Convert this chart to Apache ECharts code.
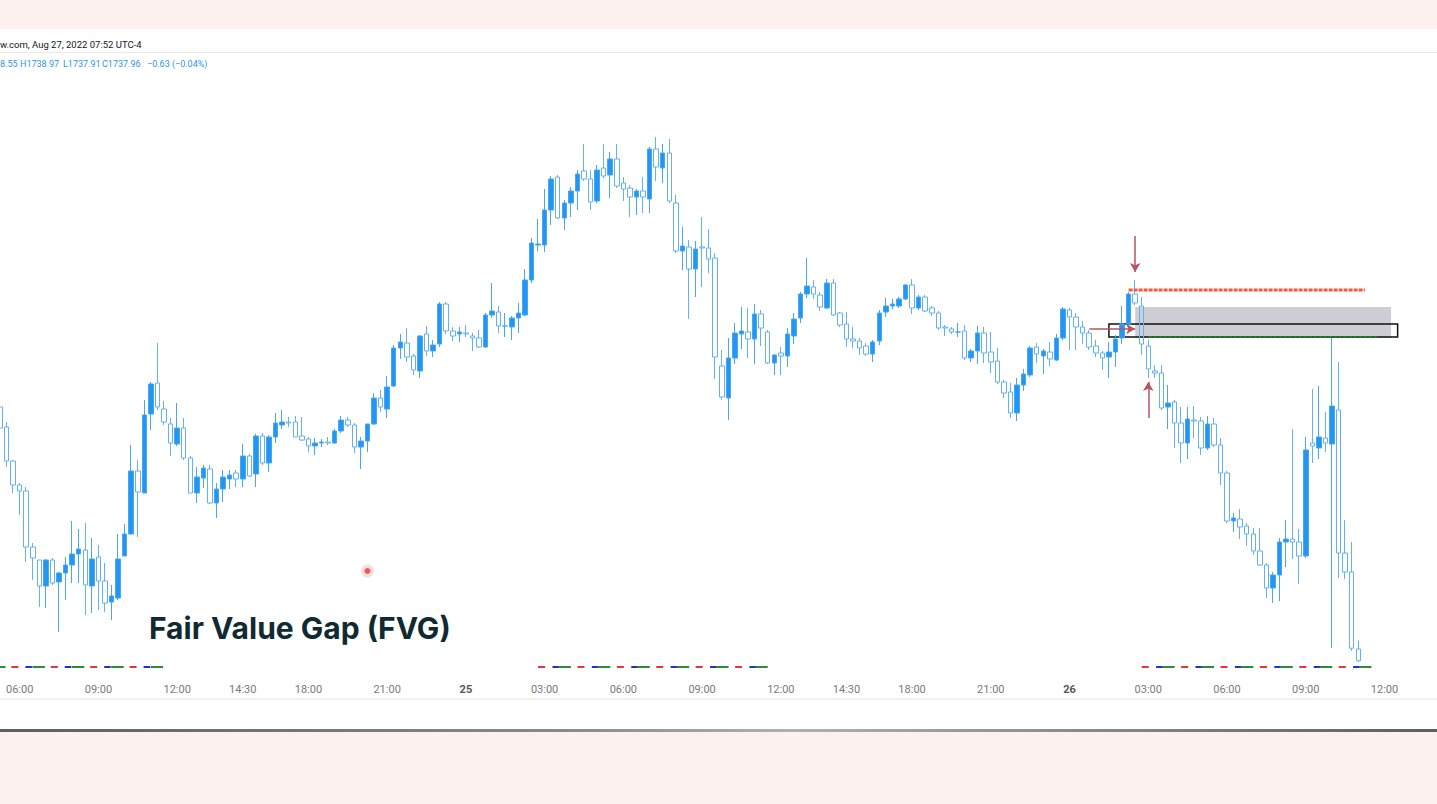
<!DOCTYPE html>
<html>
<head>
<meta charset="utf-8">
<script src="https://cdn.jsdelivr.net/npm/echarts@6/dist/echarts.min.js"></script>
<style>
  html, body { margin: 0; padding: 0; background: #fdf1f0; width: 1437px; height: 804px; overflow: hidden; }
  #panel { position: absolute; left: 0; top: 29px; width: 1437px; height: 700px; background: #ffffff; }
  #sep1 { position: absolute; left: 0; top: 52px; width: 1437px; height: 1px; background: #e9eaee; }
  #sep2 { position: absolute; left: 0; top: 698px; width: 1437px; height: 2px; background: #f1f1f3; }
  #shadow { position: absolute; left: 0; top: 729px; width: 1437px; height: 3px;
            background: linear-gradient(to right, #5e5e5e, #8a8a8a 40%, #b0b0b0 55%, #8a8a8a 75%, #5e5e5e); }
  #chart { position: absolute; left: 0; top: 0; width: 1437px; height: 804px; }
</style>
</head>
<body>
<div id="panel"></div>
<div id="sep1"></div>
<div id="sep2"></div>
<div id="shadow"></div>
<div id="chart"></div>
<script>
// ---------- DATA (15-minute candles, XAUUSD, Aug 24 05:15 -> Aug 26 11:00) ----------
const candleOpen = [
1750.65,1749.65,1747.95,1746.75,1746.45,1743.65,1743.00,1741.70,1743.00,1741.90,
1742.35,1742.75,1743.30,1743.50,1741.70,1743.15,1741.95,1740.90,1741.10,1743.20,
1744.30,1747.45,1746.35,1750.30,1751.85,1750.55,1749.80,1748.80,1749.60,1748.10,
1746.35,1747.10,1747.55,1745.85,1746.55,1747.05,1747.35,1747.05,1748.20,1747.30,
1749.20,1747.85,1749.15,1749.75,1749.90,1749.90,1749.20,1749.05,1748.70,1748.85,
1748.90,1748.85,1749.45,1750.00,1749.75,1748.65,1748.95,1749.80,1751.10,1750.55,
1751.70,1753.60,1753.85,1753.20,1752.45,1754.30,1753.45,1753.80,1755.80,1754.45,
1754.30,1754.35,1754.20,1754.10,1753.65,1755.25,1755.40,1754.70,1754.65,1755.10,
1755.25,1757.00,1758.75,1758.75,1760.50,1762.15,1760.10,1760.85,1761.45,1762.45,
1762.05,1760.95,1762.60,1762.25,1763.05,1761.85,1761.60,1761.15,1761.45,1761.05,
1763.55,1762.60,1763.35,1760.85,1758.45,1758.65,1757.55,1758.65,1758.60,1758.10,
1752.70,1751.10,1753.10,1754.30,1754.40,1754.05,1755.30,1754.40,1752.85,1753.35,
1753.20,1754.20,1755.10,1756.30,1756.65,1756.25,1755.60,1756.85,1755.35,1754.80,
1754.05,1753.95,1753.70,1753.30,1753.95,1755.40,1755.70,1755.70,1756.05,1756.75,
1755.60,1756.15,1755.60,1755.35,1754.65,1754.55,1754.40,1754.45,1753.10,1753.45,
1754.35,1753.40,1752.95,1751.90,1751.40,1750.35,1751.75,1752.25,1753.65,1753.20,
1753.40,1753.00,1754.10,1755.50,1755.15,1754.65,1754.35,1753.70,1753.35,1753.15,
1753.40,1754.10,1754.80,1756.30,1755.70,1753.70,1752.45,1752.35,1750.65,1750.90,
1749.85,1748.85,1750.00,1749.95,1748.60,1749.80,1748.75,1747.35,1744.95,1745.05,
1744.70,1744.30,1743.45,1742.75,1741.60,1742.25,1743.90,1744.05,1743.90,1743.20,
1748.85,1748.60,1749.10,1748.80,1750.50,1743.35,1742.40,1738.55
];
const candleClose = [
1749.60,1747.95,1746.75,1746.45,1743.65,1743.10,1741.70,1743.00,1741.85,1742.35,
1742.75,1743.30,1743.55,1741.75,1743.05,1741.95,1740.85,1741.20,1743.05,1744.30,
1747.45,1746.40,1750.25,1751.80,1750.65,1749.90,1748.85,1749.60,1748.10,1746.35,
1747.15,1747.60,1745.85,1746.55,1747.15,1747.25,1747.05,1748.20,1747.20,1749.20,
1747.85,1749.15,1749.85,1749.90,1749.85,1749.15,1749.00,1748.70,1748.85,1748.90,
1748.85,1749.45,1750.00,1749.75,1748.65,1748.95,1749.80,1751.10,1750.65,1751.65,
1753.60,1753.90,1753.15,1752.50,1754.20,1753.45,1753.75,1755.80,1754.45,1754.20,
1754.40,1754.30,1754.10,1753.65,1755.25,1755.45,1754.70,1754.70,1755.10,1755.35,
1757.00,1758.85,1758.80,1760.50,1762.05,1760.10,1760.85,1761.45,1762.30,1762.05,
1760.90,1762.50,1762.20,1763.05,1761.70,1761.55,1761.15,1761.45,1761.15,1763.55,
1762.65,1763.35,1760.95,1758.45,1758.70,1757.55,1758.55,1758.60,1758.05,1753.15,
1751.15,1753.10,1754.35,1754.45,1754.05,1755.30,1754.60,1752.85,1753.25,1753.20,
1754.30,1755.05,1756.30,1756.70,1756.30,1755.65,1756.85,1755.25,1754.75,1754.05,
1753.95,1753.60,1753.30,1753.90,1755.35,1755.70,1755.80,1756.05,1756.75,1755.60,
1756.15,1755.45,1755.35,1754.60,1754.60,1754.40,1754.40,1753.10,1753.45,1754.35,
1753.35,1752.90,1751.90,1751.35,1750.35,1751.75,1752.30,1753.60,1753.30,1753.45,
1753.05,1754.10,1755.55,1755.15,1754.65,1754.35,1753.65,1753.35,1753.10,1753.40,
1754.05,1754.80,1756.30,1755.85,1753.80,1752.55,1752.35,1750.60,1750.85,1749.85,
1748.85,1750.05,1749.95,1748.60,1749.80,1748.75,1747.35,1744.95,1745.10,1744.65,
1744.30,1743.45,1742.75,1741.60,1742.25,1743.90,1744.05,1743.90,1743.20,1748.50,
1748.70,1749.15,1748.85,1750.70,1743.35,1742.40,1738.59,1737.96
];
const candleLow = [
1749.50,1747.65,1746.35,1745.25,1742.90,1742.00,1740.65,1740.60,1741.75,1739.40,
1741.00,1741.85,1741.85,1740.25,1740.35,1740.50,1740.40,1740.00,1741.00,1743.20,
1744.25,1744.15,1746.35,1749.50,1750.50,1749.75,1748.20,1748.70,1748.00,1746.35,
1745.85,1746.60,1745.80,1745.10,1745.90,1746.55,1746.65,1746.65,1747.15,1746.65,
1747.75,1747.40,1748.85,1749.55,1749.65,1749.15,1748.95,1748.40,1748.25,1748.65,
1748.75,1748.80,1749.35,1749.65,1748.35,1747.55,1748.40,1749.75,1750.40,1750.10,
1751.65,1753.05,1752.90,1752.25,1752.10,1753.20,1753.15,1753.65,1754.30,1753.95,
1753.90,1754.15,1753.45,1753.60,1753.60,1755.10,1754.35,1754.15,1754.00,1754.35,
1755.20,1756.85,1758.45,1758.40,1759.75,1760.05,1759.50,1760.15,1760.50,1761.95,
1760.50,1760.85,1762.10,1761.10,1761.60,1760.95,1760.15,1760.25,1760.35,1760.35,
1761.95,1761.85,1760.85,1758.35,1757.50,1755.05,1756.15,1756.65,1757.35,1752.05,
1751.00,1750.00,1752.80,1753.55,1753.10,1752.80,1753.70,1752.80,1752.25,1752.25,
1752.65,1753.80,1754.85,1756.10,1756.05,1755.45,1755.55,1755.20,1754.65,1753.65,
1753.60,1753.25,1753.20,1752.90,1753.75,1755.15,1755.55,1755.60,1756.00,1755.30,
1755.50,1755.40,1755.20,1754.50,1754.20,1754.30,1754.15,1753.00,1752.90,1752.80,
1752.85,1752.35,1751.80,1751.10,1750.10,1749.95,1751.45,1752.15,1752.85,1752.30,
1752.70,1752.95,1754.00,1753.50,1753.50,1753.80,1753.50,1753.15,1752.50,1752.10,
1752.65,1753.80,1754.70,1755.75,1753.25,1752.10,1752.10,1750.50,1749.55,1748.60,
1747.85,1748.05,1749.10,1748.25,1748.50,1748.65,1746.75,1744.85,1744.40,1744.05,
1743.70,1743.25,1742.70,1741.10,1740.85,1740.95,1742.65,1743.05,1741.80,1743.10,
1747.85,1748.05,1748.40,1738.60,1742.10,1742.05,1738.45,1737.91
];
const candleHigh = [
1750.80,1749.90,1748.00,1746.85,1746.65,1743.85,1743.00,1743.05,1743.10,1742.40,
1743.15,1744.95,1744.55,1744.85,1744.10,1743.75,1742.85,1741.75,1744.30,1744.80,
1748.75,1748.00,1751.00,1751.90,1753.85,1750.95,1750.10,1750.85,1750.10,1748.20,
1747.65,1747.75,1747.75,1746.85,1747.50,1747.50,1747.50,1748.80,1748.30,1749.30,
1749.35,1749.25,1750.35,1750.50,1750.15,1750.20,1750.15,1749.15,1749.10,1749.05,
1749.15,1749.55,1750.20,1750.15,1749.85,1749.15,1749.80,1751.35,1751.50,1752.20,
1753.75,1754.30,1754.60,1753.30,1754.25,1754.70,1754.00,1755.90,1755.90,1754.65,
1754.65,1754.75,1754.35,1754.50,1755.35,1756.85,1755.70,1755.35,1755.20,1755.85,
1757.55,1759.10,1760.05,1761.55,1762.20,1762.25,1761.00,1761.65,1762.50,1763.80,
1762.50,1762.75,1763.80,1763.40,1763.80,1762.15,1761.75,1761.55,1762.15,1763.65,
1764.15,1763.80,1764.05,1761.25,1759.65,1759.00,1758.95,1760.15,1759.55,1758.35,
1753.50,1754.10,1754.85,1755.65,1755.60,1755.80,1755.50,1754.50,1753.30,1753.65,
1754.60,1755.35,1756.40,1758.10,1757.00,1756.40,1757.05,1757.05,1755.40,1755.40,
1754.65,1754.10,1753.85,1754.00,1755.50,1756.10,1756.05,1756.15,1756.80,1757.05,
1756.25,1756.25,1755.70,1755.45,1754.75,1754.65,1754.85,1754.75,1753.55,1754.70,
1754.65,1754.40,1753.60,1752.00,1751.85,1752.10,1752.55,1753.70,1753.85,1753.55,
1753.90,1754.30,1755.65,1755.60,1755.35,1754.95,1754.50,1754.00,1753.45,1753.90,
1754.25,1755.70,1756.40,1757.00,1756.15,1754.00,1752.75,1752.75,1751.75,1751.00,
1750.65,1750.65,1750.70,1750.15,1750.20,1750.10,1749.10,1747.45,1745.35,1745.55,
1744.85,1744.60,1744.60,1742.85,1742.40,1744.10,1745.00,1749.55,1744.55,1749.15,
1751.55,1751.70,1750.40,1754.15,1752.90,1745.00,1743.90,1738.97
];

// time axis: 15-minute bars, the 17:00-18:00 daily break is not traded
const dayNames = ['Aug 24', 'Aug 25', 'Aug 26'];
const categoryCount = 220;
const categories = [];
(function () {
  let d = 0, m = 5 * 60 + 15;
  while (categories.length < categoryCount) {
    const hh = Math.floor(m / 60), mm = m % 60;
    if (hh !== 17) categories.push(dayNames[d] + ' ' + String(hh).padStart(2, '0') + ':' + String(mm).padStart(2, '0'));
    m += 15;
    if (m >= 1440) { m = 0; d++; }
  }
})();

const tickCats = ['Aug 24 06:00','Aug 24 09:00','Aug 24 12:00','Aug 24 14:30','Aug 24 18:00','Aug 24 21:00',
  'Aug 25 00:00','Aug 25 03:00','Aug 25 06:00','Aug 25 09:00','Aug 25 12:00','Aug 25 14:30','Aug 25 18:00','Aug 25 21:00',
  'Aug 26 00:00','Aug 26 03:00','Aug 26 06:00','Aug 26 09:00','Aug 26 12:00'];
const tickTexts = ['06:00','09:00','12:00','14:30','18:00','21:00',
  '25','03:00','06:00','09:00','12:00','14:30','18:00','21:00',
  '26','03:00','06:00','09:00','12:00'];
const dayTicks = ['25', '26'];

// header legend texts
const headerTitle = 'w.com, Aug 27, 2022 07:52 UTC-4';
const legendTexts = ['8.55', 'H1738.97', 'L1737.91', 'C1737.96', '\u22120.63 (\u22120.04%)'];

// Fair value gap annotations (category index, price)
const fvgZoneX = [173, 212];            // grey zone
const fvgZonePrice = [1755.65, 1754.10];
const fvgBoxX = [169, 213];             // black outline box
const fvgBoxPrice = [1754.80, 1754.15];
const fvgHighLineX = [172, 208];        // red level
const fvgHighPrice = 1756.50;
const fvgLowLineX = [175, 210];         // green level
const fvgLowPrice = 1754.15;
// arrows: [fromIndex, fromPrice, toIndex, toPrice]
const arrows = [
  [173, 1759.20, 173, 1757.40],
  [175, 1750.10, 175, 1751.90],
  [166, 1754.55, 173, 1754.55]
];
// session markers
const sessionSegments = [[0, 25], [82, 117], [174, 209]];
const sessionPhase = [27.9, 0, 0];
const sessionPrice = 1737.65;
// cursor dot
const cursorPoint = [56, 1742.45];

// ---------- CHART ----------
const chart = echarts.init(document.getElementById('chart'), null, { renderer: 'svg', width: 1437, height: 804 });
const candleData = candleOpen.map((o, i) => [o, candleClose[i], candleLow[i], candleHigh[i]]);

const P = 39.4;
const sessColors = [
  { color: '#e8333a', start: 0, len: 7 },
  { color: '#2b2bd0', start: 14, len: 6.5 },
  { color: '#2e8b3a', start: 20.5, len: 12.5 }
];
const sessionSeries = [];
sessionSegments.forEach((seg, si) => {
  sessColors.forEach(c => {
    let off = (sessionPhase[si] - c.start) % P; if (off < 0) off += P;
    sessionSeries.push({
      type: 'line', silent: true, symbol: 'none', animation: false,
      data: [[seg[0], sessionPrice], [seg[1], sessionPrice]],
      lineStyle: { color: c.color, width: 2, type: [c.len, P - c.len], dashOffset: off },
      z: 3
    });
  });
});

const legendX = [0, 20, 63, 102, 147];
const legendGraphics = legendTexts.map((t, i) => ({
  type: 'text', x: legendX[i], y: 64,
  style: { text: t, fill: '#2d95ea', font: '9px Roboto, sans-serif', verticalAlign: 'middle', align: 'left' }
}));

const option = {
  animation: false,
  backgroundColor: 'transparent',
  grid: { left: 0, right: 0, top: 70, bottom: 124, containLabel: false },
  xAxis: {
    type: 'category', data: categories, boundaryGap: false,
    axisLine: { show: false }, axisTick: { show: false }, splitLine: { show: false },
    axisLabel: {
      margin: 4, fontSize: 11, color: '#7a7a7a', fontFamily: 'Roboto, sans-serif',
      interval: (idx, val) => tickCats.indexOf(val) >= 0,
      formatter: (val) => {
        const t = tickTexts[tickCats.indexOf(val)];
        return dayTicks.indexOf(t) >= 0 ? '{b|' + t + '}' : t;
      },
      rich: { b: { fontWeight: 'bold', color: '#555', fontSize: 11, fontFamily: 'Roboto, sans-serif' } }
    }
  },
  yAxis: {
    type: 'value', min: 1737, max: 1767.5, scale: true,
    axisLine: { show: false }, axisTick: { show: false }, axisLabel: { show: false }, splitLine: { show: false }
  },
  series: [
    {
      type: 'candlestick', data: candleData, barWidth: 5,
      itemStyle: { color: '#2196f3', color0: 'rgba(255,255,255,0)', borderColor: '#49a6f0', borderColor0: '#62b2ef', borderWidth: 1 },
      markArea: {
        silent: true,
        data: [
          [{ coord: [fvgZoneX[0], fvgZonePrice[0]], itemStyle: { color: 'rgba(160,158,170,0.5)' } },
           { coord: [fvgZoneX[1], fvgZonePrice[1]] }],
          [{ coord: [fvgBoxX[0], fvgBoxPrice[0]], itemStyle: { color: 'rgba(0,0,0,0)', borderColor: '#111', borderWidth: 1.5 } },
           { coord: [fvgBoxX[1], fvgBoxPrice[1]] }]
        ]
      },
      markLine: {
        silent: true, symbol: ['none', 'arrow'], symbolSize: [8, 9],
        label: { show: false },
        lineStyle: { color: '#b4575c', width: 1.5, type: 'solid' },
        data: arrows.map(a => [{ coord: [a[0], a[1]] }, { coord: [a[2], a[3]] }])
      },
      z: 2
    },
    {
      type: 'line', silent: true, symbol: 'none', z: 4,
      data: [[fvgHighLineX[0], fvgHighPrice], [fvgHighLineX[1], fvgHighPrice]],
      lineStyle: { color: '#ef5b3c', width: 3, type: [4, 1] }
    },
    {
      type: 'line', silent: true, symbol: 'none', z: 4,
      data: [[fvgLowLineX[0], fvgLowPrice], [fvgLowLineX[1], fvgLowPrice]],
      lineStyle: { color: '#237a2c', width: 2, type: [4, 1] }
    },
    {
      type: 'scatter', silent: true, symbolSize: 13, z: 5,
      data: [cursorPoint], itemStyle: { color: 'rgba(240,110,110,0.30)' }
    },
    {
      type: 'scatter', silent: true, symbolSize: 6, z: 6,
      data: [cursorPoint], itemStyle: { color: '#e53935' }
    }
  ].concat(sessionSeries),
  graphic: [
    { type: 'text', x: 0, y: 44, style: { text: headerTitle, fill: '#131722', font: '9.5px Roboto, sans-serif', verticalAlign: 'middle', align: 'left' } },
    { type: 'text', x: 149, y: 628, style: { text: 'Fair Value Gap (FVG)', fill: '#0f2a33', font: 'bold 30px Inter, sans-serif', verticalAlign: 'middle' } }
  ].concat(legendGraphics)
};
chart.setOption(option);
</script>
</body>
</html>
